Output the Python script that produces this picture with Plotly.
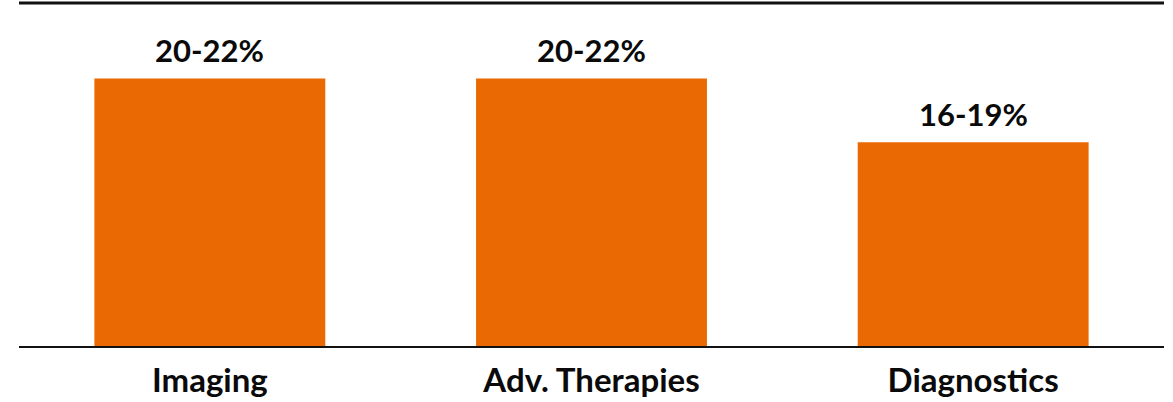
import plotly.graph_objects as go

categories = ["Imaging", "Adv. Therapies", "Diagnostics"]
values = [22, 22, 16.75]
labels = ["20-22%", "20-22%", "16-19%"]

fig = go.Figure(go.Bar(
    x=categories, y=values,
    marker=dict(color="#EB6903", line=dict(width=0)),
    cliponaxis=False, width=0.605,
))
for c, v, t in zip(categories, values, labels):
    fig.add_annotation(x=c, y=v, text=t, showarrow=False, yanchor="bottom", yshift=7,
                       font=dict(family="Lato", size=31, color="#0a0a0a", weight="bold"))
fig.update_layout(
    width=1173, height=402, margin=dict(l=19, r=9, t=3, b=56),
    plot_bgcolor="white", paper_bgcolor="white", showlegend=False,
    xaxis=dict(showline=True, linecolor="#111111", linewidth=2, ticks="",
               tickfont=dict(family="Lato", size=33, color="#0a0a0a", weight="bold"),
               ticklabelstandoff=4, automargin=False),
    yaxis=dict(range=[0, 28.2], visible=False, showgrid=False, automargin=False),
    shapes=[dict(type="line", xref="paper", yref="paper", x0=0, x1=1, y0=1, y1=1,
                 line=dict(color="#111111", width=3))],
)
fig.write_html("out.html")
